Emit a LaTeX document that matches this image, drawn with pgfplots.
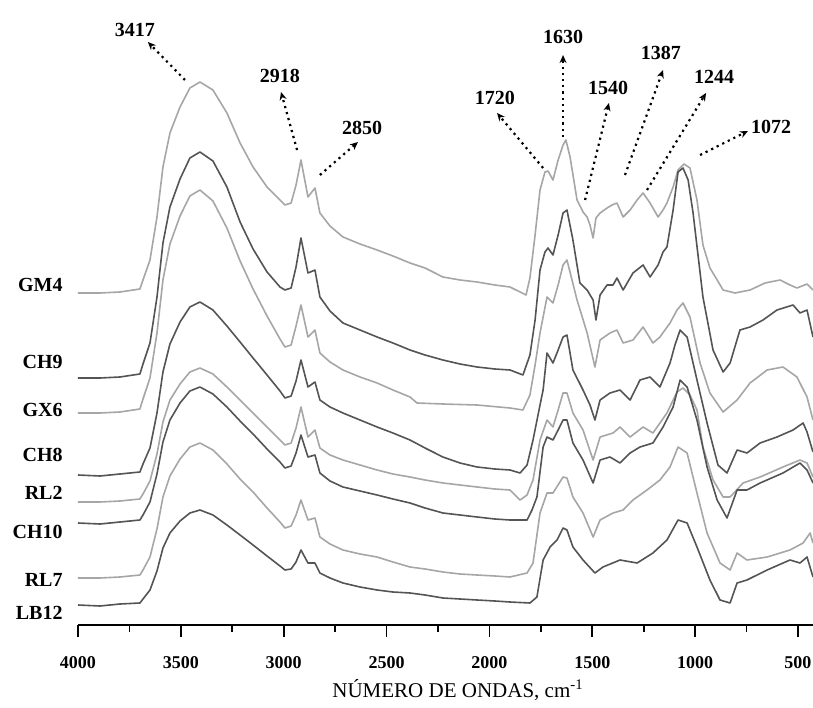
\documentclass[border=0pt]{standalone}
\usepackage{fontspec}
\setmainfont{Liberation Serif}
\usepackage{pgfplots}
\pgfplotsset{compat=1.18}
\usetikzlibrary{arrows.meta}
\definecolor{darkc}{gray}{0.33}
\definecolor{lightc}{gray}{0.65}
\tikzset{peakarrow/.style={line width=1.1pt, dash pattern=on 1.1pt off 2pt, -{Stealth[length=4pt,width=3.5pt]}}}

\begin{document}
\begin{tikzpicture}[x=1pt,y=1pt]
\begin{axis}[
  at={(0,0)}, anchor=south west,
  scale only axis, width=367.5pt, height=312.5pt,
  x dir=reverse, xmin=427, xmax=4000, ymin=0, ymax=625,
  axis x line=bottom, axis y line=none,
  x axis line style={-, line width=0.8pt},
  xtick={500,1000,...,4000}, minor x tick num=1,
  tick align=outside, major tick length=6pt, minor tick length=3.5pt,
  every tick/.style={black, line width=0.8pt},
  /pgf/number format/1000 sep={}, scaled x ticks=false,
  /pgf/number format/assume math mode=true,
  xticklabel style={font=\fontsize{9}{10}\selectfont\bfseries, yshift=-6pt},
  xlabel={NÚMERO DE ONDAS, cm\textsuperscript{-1}},
  xlabel style={font=\fontsize{10.5}{12}\selectfont, at={(axis description cs:0.517,0)}, anchor=center, yshift=-32.5pt},
  clip=false,
  every axis plot/.append style={line width=0.8pt, line join=round, no markers},
]
% GM4
\addplot[lightc] coordinates {(4000,332) (3893,332) (3796,333) (3699,336) (3684,345) (3650,365) (3616,408) (3587,458) (3553,492) (3504,518) (3456,537) (3407,543) (3344,535) (3276,512) (3212,482) (3149,458) (3081,438) (3018,425) (2994,420) (2964,422) (2940,440) (2916,465) (2882,428) (2848,437) (2824,412) (2775,399) (2712,388) (2629,381) (2546,375) (2469,369) (2386,362) (2313,357) (2226,348) (2143,345) (2060,343) (1973,340) (1900,338) (1851,333) (1822,330) (1803,347) (1778,390) (1754,435) (1730,453) (1715,454) (1691,445) (1666,465) (1642,480) (1628,485) (1608,468) (1574,425) (1545,413) (1525,408) (1511,400) (1496,387) (1482,407) (1462,412) (1428,417) (1404,420) (1380,422) (1350,408) (1316,415) (1282,425) (1253,432) (1219,422) (1180,408) (1156,415) (1137,422) (1107,438) (1083,455) (1054,461) (1025,457) (991,425) (962,380) (928,357) (893,345) (864,335) (806,332) (733,335) (660,342) (587,345) (539,340) (505,337) (456,341) (427,335)};
% CH9
\addplot[darkc] coordinates {(4000,247) (3893,247) (3796,248) (3699,251) (3684,261) (3650,282) (3616,328) (3587,382) (3553,418) (3504,446) (3456,467) (3407,473) (3344,464) (3276,438) (3212,403) (3149,376) (3081,353) (3018,338) (2994,335) (2964,337) (2940,358) (2916,387) (2882,352) (2848,355) (2824,328) (2775,314) (2712,302) (2629,295) (2546,288) (2469,282) (2386,275) (2313,270) (2226,265) (2143,261) (2060,258) (1973,256) (1900,255) (1837,250) (1803,270) (1778,305) (1754,355) (1730,373) (1715,377) (1691,370) (1666,390) (1642,412) (1623,415) (1594,385) (1560,342) (1525,335) (1496,325) (1482,305) (1462,330) (1428,340) (1399,340) (1380,347) (1350,335) (1302,352) (1253,360) (1219,348) (1180,360) (1156,373) (1137,378) (1107,415) (1083,453) (1059,457) (1034,445) (1010,412) (962,328) (913,275) (864,253) (830,262) (782,295) (733,298) (670,305) (602,315) (524,320) (490,312) (456,315) (427,288)};
% GX6
\addplot[lightc] coordinates {(4000,212) (3893,212) (3796,213) (3699,216) (3684,226) (3650,247) (3616,292) (3587,345) (3553,381) (3504,409) (3456,429) (3407,435) (3344,424) (3276,397) (3212,364) (3149,336) (3081,309) (3018,286) (2994,278) (2964,280) (2940,299) (2916,320) (2882,288) (2848,295) (2824,272) (2775,263) (2712,255) (2629,248) (2546,242) (2469,235) (2386,228) (2352,222) (2226,221) (2060,220) (1900,217) (1837,215) (1803,230) (1778,260) (1754,292) (1720,328) (1691,322) (1666,340) (1642,360) (1623,365) (1574,325) (1525,292) (1487,258) (1462,285) (1414,292) (1380,295) (1350,282) (1302,285) (1253,298) (1205,282) (1171,288) (1122,302) (1088,315) (1059,322) (1025,308) (976,262) (928,232) (864,213) (796,225) (733,242) (650,255) (573,258) (505,248) (456,228) (427,205)};
% CH8
\addplot[darkc] coordinates {(4000,150) (3893,149) (3796,151) (3699,153) (3684,161) (3650,177) (3616,212) (3587,253) (3553,281) (3504,303) (3456,318) (3407,323) (3344,315) (3276,299) (3212,283) (3149,267) (3081,250) (3018,234) (2994,227) (2964,229) (2940,244) (2916,265) (2882,238) (2848,243) (2824,225) (2775,218) (2712,212) (2629,205) (2546,198) (2469,192) (2386,185) (2313,177) (2226,168) (2143,162) (2060,158) (1973,156) (1900,155) (1851,152) (1817,160) (1788,185) (1754,220) (1739,235) (1720,272) (1691,262) (1666,275) (1642,288) (1623,290) (1594,255) (1545,235) (1511,220) (1487,205) (1462,225) (1414,232) (1365,235) (1316,225) (1268,245) (1219,248) (1171,238) (1122,262) (1098,280) (1073,295) (1039,288) (991,245) (942,202) (889,160) (845,152) (796,175) (748,172) (684,182) (602,188) (524,195) (475,202) (456,193) (427,173)};
% RL2
\addplot[lightc] coordinates {(4000,123) (3893,123) (3796,124) (3699,126) (3684,131) (3650,144) (3616,171) (3587,203) (3553,225) (3504,241) (3456,253) (3407,257) (3344,251) (3276,238) (3212,225) (3149,212) (3081,198) (3018,185) (2994,180) (2964,182) (2940,197) (2916,218) (2882,188) (2848,195) (2824,177) (2775,170) (2712,165) (2629,160) (2546,155) (2469,151) (2386,148) (2313,145) (2226,142) (2143,140) (2060,138) (1973,136) (1900,135) (1851,125) (1817,130) (1788,145) (1754,185) (1720,205) (1691,198) (1666,215) (1642,232) (1623,232) (1594,212) (1545,195) (1496,165) (1462,188) (1399,192) (1365,198) (1316,188) (1253,198) (1205,192) (1137,212) (1088,233) (1059,237) (1025,230) (991,215) (962,178) (913,145) (864,128) (830,128) (767,142) (684,148) (573,158) (490,165) (456,162) (427,148)};
% CH10
\addplot[darkc] coordinates {(4000,102) (3893,101) (3796,103) (3699,105) (3684,110) (3650,123) (3616,151) (3587,183) (3553,205) (3504,222) (3456,234) (3407,238) (3344,231) (3276,218) (3212,204) (3149,191) (3081,176) (3018,163) (2994,157) (2964,159) (2940,172) (2916,190) (2882,168) (2848,170) (2824,152) (2775,144) (2712,138) (2629,134) (2546,130) (2469,126) (2386,122) (2313,117) (2226,112) (2143,110) (2060,108) (1973,106) (1900,105) (1817,105) (1793,115) (1769,128) (1739,178) (1720,188) (1691,185) (1666,195) (1642,205) (1623,205) (1594,182) (1545,165) (1496,142) (1462,165) (1414,168) (1365,162) (1316,172) (1268,178) (1205,182) (1156,198) (1107,218) (1073,245) (1039,238) (991,205) (942,158) (893,125) (845,107) (796,135) (748,135) (684,142) (573,152) (490,162) (456,155) (427,142)};
% RL7
\addplot[lightc] coordinates {(4000,47) (3893,47) (3796,48) (3699,50) (3684,55) (3650,68) (3616,96) (3587,128) (3553,149) (3504,166) (3456,178) (3407,182) (3344,175) (3276,161) (3212,146) (3149,133) (3081,117) (3018,103) (2994,97) (2964,99) (2940,110) (2916,125) (2882,105) (2848,107) (2824,88) (2775,81) (2712,75) (2629,71) (2546,68) (2469,63) (2386,58) (2313,56) (2226,53) (2143,51) (2060,50) (1973,49) (1900,48) (1817,52) (1788,62) (1754,112) (1720,132) (1691,132) (1642,148) (1623,147) (1594,128) (1545,112) (1496,88) (1462,105) (1399,112) (1350,115) (1302,125) (1234,135) (1171,145) (1122,158) (1083,178) (1039,172) (991,132) (942,92) (879,62) (830,55) (796,72) (748,65) (650,68) (539,75) (475,82) (441,92) (427,82)};
% LB12
\addplot[darkc] coordinates {(4000,20) (3893,19) (3796,21) (3699,22) (3684,26) (3650,35) (3616,54) (3587,77) (3553,92) (3504,104) (3456,112) (3407,115) (3344,110) (3276,100) (3212,90) (3149,80) (3081,69) (3018,59) (2994,55) (2964,56) (2940,63) (2916,75) (2882,62) (2848,62) (2824,52) (2775,47) (2712,42) (2629,38) (2546,35) (2469,33) (2386,32) (2313,30) (2226,27) (2143,26) (2060,25) (1973,24) (1900,23) (1803,22) (1769,28) (1739,65) (1705,78) (1671,85) (1642,97) (1623,95) (1594,78) (1545,65) (1487,52) (1448,58) (1365,65) (1282,62) (1205,72) (1137,85) (1083,105) (1039,102) (991,78) (928,45) (879,25) (830,22) (796,42) (748,45) (650,55) (539,65) (490,62) (456,68) (427,48)};

% sample labels
\begin{scope}[every node/.style={anchor=east, inner sep=0pt, font=\fontsize{10}{12}\selectfont\bfseries}]
\node at (axis cs:4073,340) {GM4};
\node at (axis cs:4073,263) {CH9};
\node at (axis cs:4073,215) {GX6};
\node at (axis cs:4073,170) {CH8};
\node at (axis cs:4073,132) {RL2};
\node at (axis cs:4073,93) {CH10};
\node at (axis cs:4073,45) {RL7};
\node at (axis cs:4073,12) {LB12};
\end{scope}

% peak annotations
\begin{scope}[every node/.style={inner sep=0pt, font=\fontsize{10}{12}\selectfont\bfseries}]
\node at (axis cs:3723,595) {3417};
\node at (axis cs:3018,549) {2918};
\node at (axis cs:2619,497) {2850};
\node at (axis cs:1973,527) {1720};
\node at (axis cs:1642,588) {1630};
\node at (axis cs:1423,537) {1540};
\node at (axis cs:1166,572) {1387};
\node at (axis cs:908,548) {1244};
\node at (axis cs:631,498) {1072};
\end{scope}
\draw[peakarrow] (axis cs:3480,545) -- (axis cs:3660,583);
\draw[peakarrow] (axis cs:2935,475) -- (axis cs:3013,533);
\draw[peakarrow] (axis cs:2824,450) -- (axis cs:2639,483);
\draw[peakarrow] (axis cs:1739,457) -- (axis cs:1963,512);
\draw[peakarrow] (axis cs:1642,488) -- (axis cs:1642,570);
\draw[peakarrow] (axis cs:1535,425) -- (axis cs:1419,522);
\draw[peakarrow] (axis cs:1341,450) -- (axis cs:1156,555);
\draw[peakarrow] (axis cs:1234,435) -- (axis cs:947,532);
\draw[peakarrow] (axis cs:976,470) -- (axis cs:743,494);
\end{axis}
\pgfresetboundingbox
\path (-39pt,-41pt) rectangle (367.5pt,312.5pt);
\end{tikzpicture}
\end{document}
